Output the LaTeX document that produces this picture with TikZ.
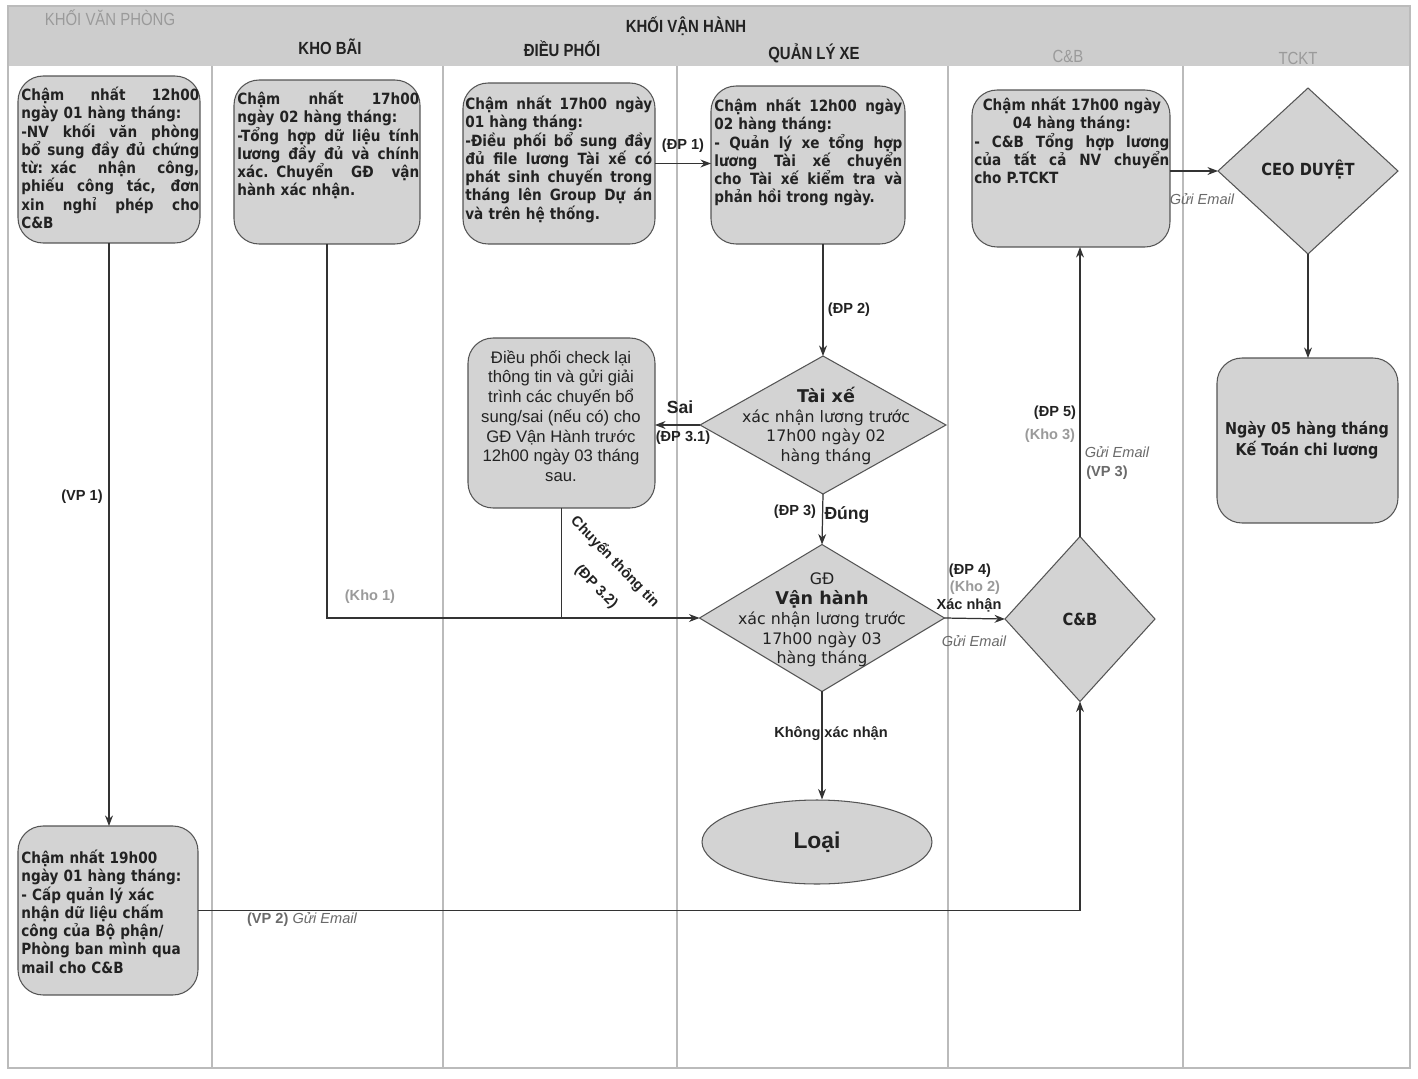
\documentclass[tikz,border=0pt]{standalone}
\usepackage{fontspec}
\setmainfont{Liberation Sans}
\newfontfamily\boxfont[FakeStretch=0.88]{DejaVu Sans}
\newfontfamily\vfont{DejaVu Sans}
\newfontfamily\hdrfont[FakeStretch=0.85]{Liberation Sans}
\usetikzlibrary{shapes.geometric,arrows.meta}
\setlength{\parindent}{0pt}
\setlength{\parskip}{0pt}
\definecolor{boxfill}{HTML}{D3D3D3}
\definecolor{boxline}{HTML}{555555}
\definecolor{lineclr}{HTML}{333333}
\definecolor{lanec}{HTML}{BBBBBB}
\definecolor{hdrc}{HTML}{CDCDCD}
\definecolor{lightlbl}{HTML}{9A9A9A}
\definecolor{midlbl}{HTML}{6A6A6A}
\definecolor{txt}{HTML}{222222}
\newcommand\jl[1]{\par\noindent\hbox to\hsize{\spaceskip=0.3em plus 1fil\relax #1}\par}
\newcommand\ctl[1]{\par\noindent\hbox to\hsize{\hfil #1\hfil}\par}
\newcommand\rl[1]{\par\noindent\hbox to\hsize{#1\hfil}\par}
\begin{document}
\begin{tikzpicture}[x=0.02cm,y=-0.02cm,
 box/.style={draw=boxline, fill=boxfill, rounded corners=0.5cm, line width=0.6pt, inner sep=0pt, outer sep=0pt},
 dia/.style={draw=boxline, fill=boxfill, diamond, line width=0.6pt, inner sep=0pt, outer sep=0pt},
 arr/.style={draw=lineclr, line width=0.7pt, -{Stealth[length=6pt,width=4.5pt]}},
 ln/.style={draw=lineclr, line width=0.7pt},
 btxt/.style={inner sep=0pt, anchor=north west, font=\boxfont\bfseries\fontsize{8.8}{10.4}\selectfont, text=txt, align=left},
 dtxt/.style={inner sep=0pt, align=center, text=txt, font=\vfont\fontsize{9}{11.3}\selectfont},
 lbl/.style={inner sep=1pt, font=\bfseries\fontsize{8.3}{10}\selectfont, text=txt},
 glbl/.style={inner sep=1pt, font=\bfseries\fontsize{8.3}{10}\selectfont, text=lightlbl},
 elbl/.style={inner sep=1pt, font=\itshape\fontsize{8.3}{10}\selectfont, text=midlbl},
 hdrd/.style={inner sep=0pt, font=\hdrfont\bfseries\fontsize{10}{12}\selectfont, text=txt},
 hdrg/.style={inner sep=0pt, font=\hdrfont\fontsize{10}{12}\selectfont, text=lightlbl},
]
\useasboundingbox (0,0) rectangle (1418,1079);
\fill[white] (0,0) rectangle (1418,1079);
% lanes
\fill[hdrc] (8,6) rectangle (1410,66);
\draw[lanec, line width=0.6pt] (8,6) rectangle (1410,1068);
\foreach \x in {212,443,677,948,1183} \draw[lanec, line width=0.6pt] (\x,66) -- (\x,1068);
% headers
\node[hdrg] (hVP) at (110,18) {KHỐI VĂN PHÒNG};
\node[hdrd] (hVH) at (686,26) {KHỐI VẬN HÀNH};
\node[hdrd] (hKB) at (330,47) {KHO BÃI};
\node[hdrd] (hDP) at (562,49) {ĐIỀU PHỐI};
\node[hdrd] (hQL) at (814,53) {QUẢN LÝ XE};
\node[hdrg] (hCB) at (1068,56) {C\&B};
\node[hdrg] (hTK) at (1298,58) {TCKT};
% boxes
\node[box, minimum width=3.64cm, minimum height=3.34cm] (vp1) at (109,159.5) {};
\node[box, minimum width=3.72cm, minimum height=3.28cm] (kho) at (327,162) {};
\node[box, minimum width=3.84cm, minimum height=3.22cm] (dp) at (559,163.5) {};
\node[box, minimum width=3.88cm, minimum height=3.16cm] (qlx) at (808,165) {};
\node[box, minimum width=3.96cm, minimum height=3.14cm] (cb) at (1071,168.5) {};
\node[box, minimum width=3.62cm, minimum height=3.30cm] (ngay) at (1307.5,440.5) {};
\node[box, minimum width=3.74cm, minimum height=3.40cm] (chk) at (561.5,423) {};
\node[box, minimum width=3.60cm, minimum height=3.38cm] (vp2) at (108,910.5) {};
\node[dia, minimum width=3.6cm, minimum height=3.32cm] (ceo) at (1308,171) {};
\node[dia, minimum width=4.92cm, minimum height=2.76cm] (tx) at (823,425) {};
\node[dia, minimum width=4.9cm, minimum height=2.94cm] (gd) at (822,618) {};
\node[dia, minimum width=3.0cm, minimum height=3.3cm] (cbd) at (1080,619) {};
\node[ellipse, draw=boxline, fill=boxfill, line width=0.6pt, inner sep=0pt, minimum width=4.6cm, minimum height=1.68cm, font=\bfseries\fontsize{13}{15}\selectfont, text=txt] (loai) at (817,842) {Loại};
% box texts
\node[btxt, text width=3.56cm] (vp1t) at (21,82) {\jl{Chậm nhất 12h00}\rl{ngày 01 hàng tháng:}\jl{-NV khối văn phòng}\jl{bổ sung đầy đủ chứng}\jl{từ: xác nhận công,}\jl{phiếu công tác, đơn}\jl{xin nghỉ phép cho}\rl{C\&B}};
\node[btxt, text width=3.64cm] (khot) at (237,86) {\jl{Chậm nhất 17h00}\rl{ngày 02 hàng tháng:}\jl{-Tổng hợp dữ liệu tính}\jl{lương đầy đủ và chính}\jl{xác. Chuyển GĐ vận}\rl{hành xác nhận.}};
\node[btxt, text width=3.74cm] (dpt) at (465,91) {\jl{Chậm nhất 17h00 ngày}\rl{01 hàng tháng:}\jl{-Điều phối bổ sung đầy}\jl{đủ file lương Tài xế có}\jl{phát sinh chuyến trong}\jl{tháng lên Group Dự án}\rl{và trên hệ thống.}};
\node[btxt, text width=3.76cm] (qlxt) at (714,93) {\jl{Chậm nhất 12h00 ngày}\rl{02 hàng tháng:}\jl{- Quản lý xe tổng hợp}\jl{lương Tài xế chuyển}\jl{cho Tài xế kiểm tra và}\rl{phản hồi trong ngày.}};
\node[btxt, text width=3.9cm] (cbt) at (974,92) {\ctl{Chậm nhất 17h00 ngày}\ctl{04 hàng tháng:}\jl{- C\&B Tổng hợp lương}\jl{của tất cả NV chuyển}\rl{cho P.TCKT}};
\node[btxt, text width=3.56cm] (vp2t) at (21,845) {\rl{Chậm nhất 19h00}\rl{ngày 01 hàng tháng:}\rl{- Cấp quản lý xác}\rl{nhận dữ liệu chấm}\rl{công của Bộ phận/}\rl{Phòng ban mình qua}\rl{mail cho C\&B}};
\node[inner sep=0pt, align=center, text=txt, font=\fontsize{9.5}{11.2}\selectfont] (chkt) at (561,416) {Điều phối check lại\\thông tin và gửi giải\\trình các chuyến bổ\\sung/sai (nếu có) cho\\GĐ Vận Hành trước\\12h00 ngày 03 tháng\\sau.};
\node[dtxt] (txt) at (826,426) {{\bfseries\fontsize{10}{11.3}\selectfont Tài xế}\\xác nhận lương trước\\17h00 ngày 02\\hàng tháng};
\node[dtxt] (gdt) at (822,620) {GĐ\\{\bfseries\fontsize{10}{11.3}\selectfont Vận hành}\\xác nhận lương trước\\17h00 ngày 03\\hàng tháng};
\node[inner sep=0pt, text=txt, font=\boxfont\bfseries\fontsize{9.5}{11}\selectfont] (ceot) at (1308,170) {CEO DUYỆT};
\node[inner sep=0pt, text=txt, font=\boxfont\bfseries\fontsize{9.5}{11}\selectfont] (cbdt) at (1080,619) {C\&B};
\node[inner sep=0pt, align=center, text=txt, font=\boxfont\bfseries\fontsize{9.3}{12}\selectfont] (ngayt) at (1307,440) {Ngày 05 hàng tháng\\Kế Toán chi lương};
% connectors
\draw[arr] (vp1.south) -- (vp1.south |- vp2.north);
\draw[arr] (kho.south) |- (gd.west);
\draw[ln] (chk.south) -- (chk.south |- gd.west);
\draw[arr] (dp.east) -- (dp.east -| qlx.west);
\draw[arr] (tx.north |- qlx.south) -- (tx.north);
\draw[arr] (tx.west) -- (tx.west -| chk.east);
\draw[arr] (tx.south) -- (gd.north);
\draw[arr] (gd.east) -- (cbd.west);
\draw[arr] (gd.south) -- (gd.south |- loai.north);
\draw[arr] (vp2.east) -| (cbd.south);
\draw[arr] (cbd.north) -- (cbd.north |- cb.south);
\draw[arr] (cb.east |- ceo.west) -- (ceo.west);
\draw[arr] (ceo.south) -- (ceo.south |- ngay.north);
% labels
\node[lbl] (lDP1) at (683,146) {(ĐP 1)};
\node[lbl] (lDP2) at (849,310) {(ĐP 2)};
\node[lbl] (lVP1) at (82,497) {(VP 1)};
\node[glbl] (lKho1) at (370,597) {(Kho 1)};
\node[lbl, font=\bfseries\fontsize{10}{12}\selectfont] (lSai) at (680,407) {Sai};
\node[lbl] (lDP31) at (683,438) {(ĐP 3.1)};
\node[lbl] (lDP3) at (795,512) {(ĐP 3)};
\node[lbl, font=\bfseries\fontsize{10}{12}\selectfont] (lDung) at (847,515) {Đúng};
\node[lbl, rotate=-46, inner sep=0pt] (lCTT) at (615,562) {Chuyển thông tin};
\node[lbl, rotate=-46, inner sep=0pt] (lDP32) at (596,587) {(ĐP 3.2)};
\node[lbl] (lDP4) at (970,571) {(ĐP 4)};
\node[glbl] (lKho2) at (975,588) {(Kho 2)};
\node[lbl] (lXN) at (969,605) {Xác nhận};
\node[elbl] (lGE1) at (974,641) {Gửi Email};
\node[lbl] (lKXN) at (831,734) {Không xác nhận};
\node[inner sep=1pt, font=\fontsize{8.3}{10}\selectfont] (lVP2) at (302,919) {\textcolor{midlbl}{\bfseries (VP 2)} \textcolor{midlbl}{\itshape Gửi Email}};
\node[lbl] (lDP5) at (1055,413) {(ĐP 5)};
\node[glbl] (lKho3) at (1050,436) {(Kho 3)};
\node[elbl] (lGE2) at (1117,452) {Gửi Email};
\node[lbl, text=midlbl] (lVP3) at (1107,473) {(VP 3)};
\node[elbl] (lGE3) at (1202,199) {Gửi Email};
\end{tikzpicture}
\end{document}
